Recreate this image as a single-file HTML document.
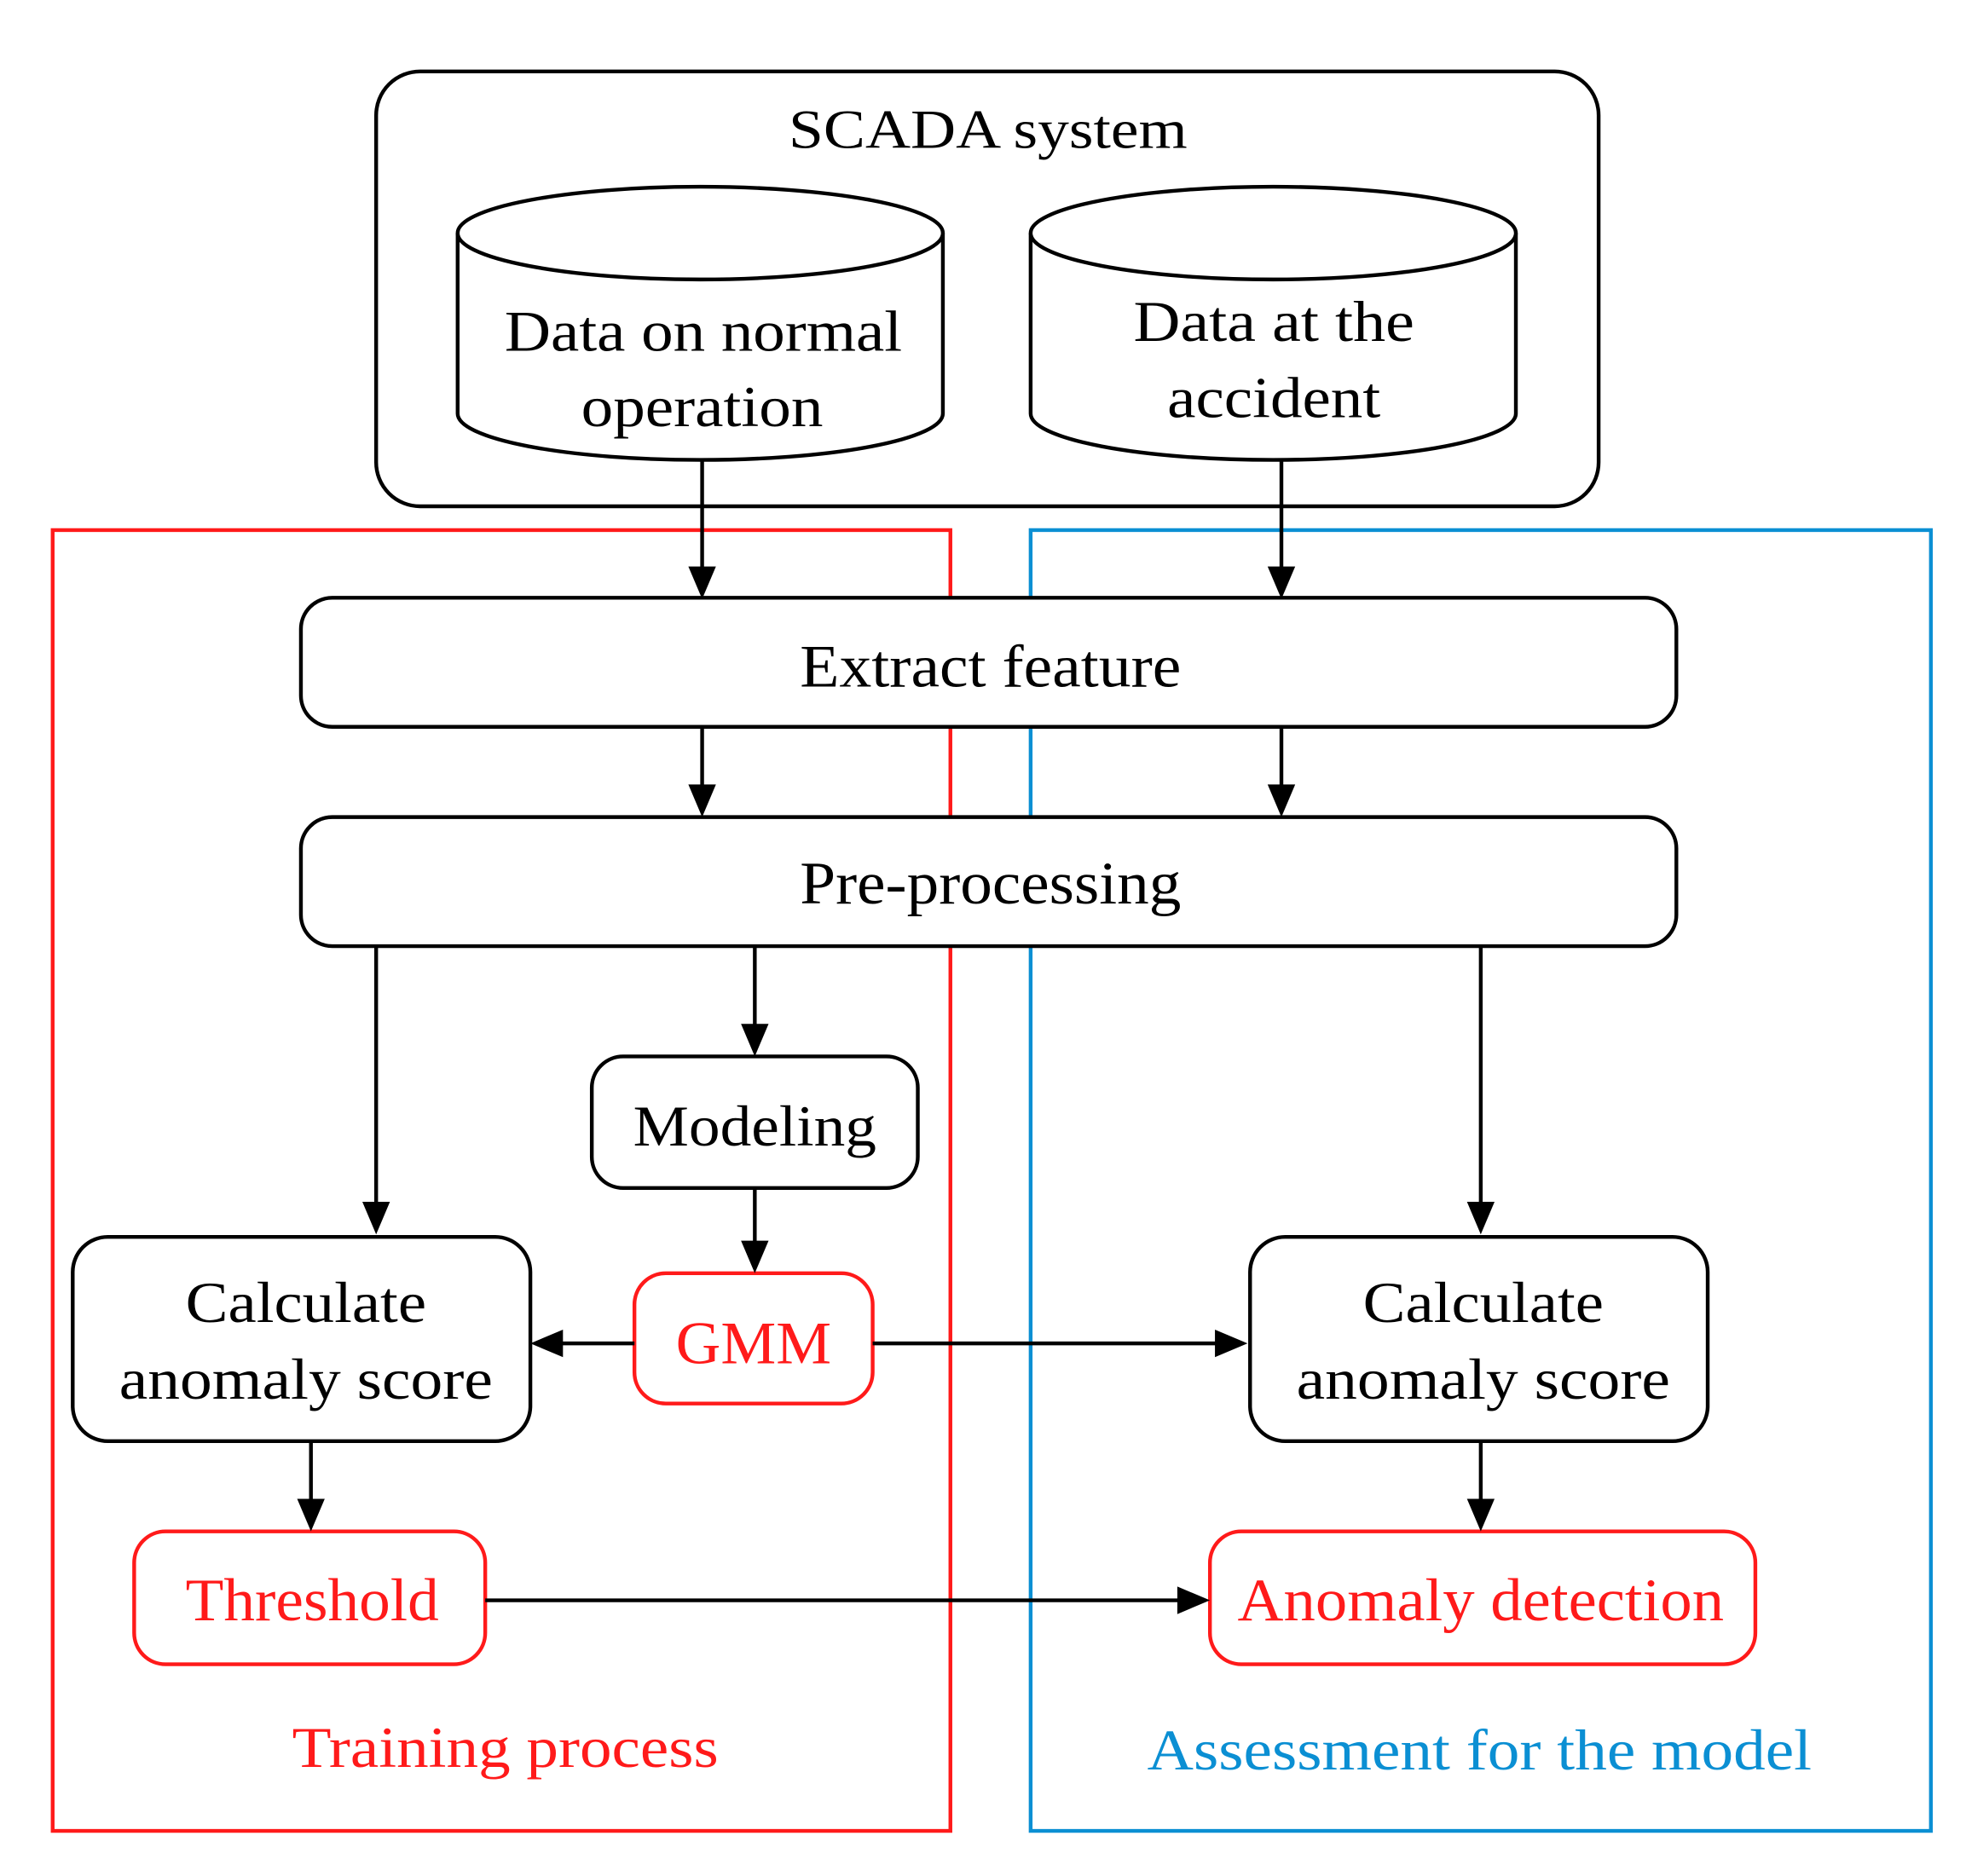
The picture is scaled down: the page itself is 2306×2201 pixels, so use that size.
<!DOCTYPE html>
<html><head><meta charset="utf-8"><style>
html,body{margin:0;padding:0;background:#fff;}
svg{display:block;}
text{font-family:"Liberation Serif",serif;text-anchor:middle;}
</style></head><body>
<svg width="2306" height="2201" viewBox="0 0 1568 1497" preserveAspectRatio="none" xmlns="http://www.w3.org/2000/svg">
<defs>
<marker id="a" viewBox="0 0 10 10" refX="10" refY="5" markerWidth="9" markerHeight="9" orient="auto" markerUnits="userSpaceOnUse">
</marker>
</defs>
<rect x="0" y="0" width="1568" height="1497" fill="#fff"/>
<!-- group frames -->
<rect x="42" y="423" width="716" height="1038" fill="none" stroke="#ff1a1a" stroke-width="3"/>
<rect x="822" y="423" width="718" height="1038" fill="none" stroke="#0b8fd3" stroke-width="3"/>
<!-- SCADA -->
<rect x="300" y="57" width="975" height="347" rx="35" fill="none" stroke="#000" stroke-width="3"/>
<text x="788" y="118" font-size="44" textLength="318" lengthAdjust="spacingAndGlyphs">SCADA system</text>
<!-- cylinders -->
<g fill="#fff" stroke="#000" stroke-width="3">
<path d="M365 186 V330 A193.5 37 0 0 0 752 330 V186"/>
<ellipse cx="558.5" cy="186" rx="193.5" ry="37"/>
<path d="M822 186 V330 A193.5 37 0 0 0 1209 330 V186"/>
<ellipse cx="1015.5" cy="186" rx="193.5" ry="37"/>
</g>
<text x="561" y="280" font-size="46" textLength="317" lengthAdjust="spacingAndGlyphs">Data on normal</text>
<text x="560" y="340" font-size="46" textLength="193" lengthAdjust="spacingAndGlyphs">operation</text>
<text x="1016" y="272" font-size="46" textLength="224" lengthAdjust="spacingAndGlyphs">Data at the</text>
<text x="1016" y="333" font-size="46" textLength="170" lengthAdjust="spacingAndGlyphs">accident</text>
<!-- boxes -->
<g fill="#fff" stroke="#000" stroke-width="3">
<rect x="240" y="477" width="1097" height="103" rx="25"/>
<rect x="240" y="652" width="1097" height="103" rx="25"/>
<rect x="472" y="843" width="260" height="105" rx="25"/>
<rect x="58" y="987" width="365" height="163" rx="28"/>
<rect x="997" y="987" width="365" height="163" rx="28"/>
</g>
<g fill="#fff" stroke="#ff1a1a" stroke-width="3">
<rect x="506" y="1016" width="190" height="104" rx="25"/>
<rect x="107" y="1222" width="280" height="106" rx="25"/>
<rect x="965" y="1222" width="435" height="106" rx="25"/>
</g>
<text x="790" y="548" font-size="48" textLength="304" lengthAdjust="spacingAndGlyphs">Extract feature</text>
<text x="790" y="721" font-size="48" textLength="304" lengthAdjust="spacingAndGlyphs">Pre-processing</text>
<text x="602" y="914" font-size="46" textLength="194" lengthAdjust="spacingAndGlyphs">Modeling</text>
<text x="601" y="1088" font-size="48" fill="#ff1a1a" textLength="124" lengthAdjust="spacingAndGlyphs">GMM</text>
<text x="244" y="1055" font-size="46" textLength="192" lengthAdjust="spacingAndGlyphs">Calculate</text>
<text x="244" y="1116" font-size="46" textLength="298" lengthAdjust="spacingAndGlyphs">anomaly score</text>
<text x="1183" y="1055" font-size="46" textLength="192" lengthAdjust="spacingAndGlyphs">Calculate</text>
<text x="1183" y="1116" font-size="46" textLength="298" lengthAdjust="spacingAndGlyphs">anomaly score</text>
<text x="249" y="1293" font-size="48" fill="#ff1a1a" textLength="202" lengthAdjust="spacingAndGlyphs">Threshold</text>
<text x="1181" y="1293" font-size="48" fill="#ff1a1a" textLength="388" lengthAdjust="spacingAndGlyphs">Anomaly detection</text>
<text x="403" y="1410" font-size="46" fill="#ff1a1a" textLength="340" lengthAdjust="spacingAndGlyphs">Training process</text>
<text x="1180" y="1412" font-size="46" fill="#0b8fd3" textLength="530" lengthAdjust="spacingAndGlyphs">Assessment for the model</text>
<!-- connectors -->
<g stroke="#000" stroke-width="3" fill="none">
<line x1="560" y1="367" x2="560" y2="455"/>
<line x1="1022" y1="367" x2="1022" y2="455"/>
<line x1="560" y1="580" x2="560" y2="630"/>
<line x1="1022" y1="580" x2="1022" y2="630"/>
<line x1="300" y1="755" x2="300" y2="962"/>
<line x1="602" y1="755" x2="602" y2="820"/>
<line x1="1181" y1="755" x2="1181" y2="962"/>
<line x1="602" y1="948" x2="602" y2="993"/>
<line x1="506" y1="1072" x2="446" y2="1072"/>
<line x1="696" y1="1072" x2="972" y2="1072"/>
<line x1="248" y1="1150" x2="248" y2="1199"/>
<line x1="1181" y1="1150" x2="1181" y2="1199"/>
<line x1="387" y1="1277" x2="942" y2="1277"/>
</g>
<g fill="#000">
<polygon points="549,452 571,452 560,478"/>
<polygon points="1011,452 1033,452 1022,478"/>
<polygon points="549,626 571,626 560,652"/>
<polygon points="1011,626 1033,626 1022,652"/>
<polygon points="289,959 311,959 300,985"/>
<polygon points="591,817 613,817 602,843"/>
<polygon points="1170,959 1192,959 1181,985"/>
<polygon points="591,990 613,990 602,1016"/>
<polygon points="449,1061 449,1083 423,1072"/>
<polygon points="969,1061 969,1083 995,1072"/>
<polygon points="237,1196 259,1196 248,1222"/>
<polygon points="1170,1196 1192,1196 1181,1222"/>
<polygon points="939,1266 939,1288 965,1277"/>
</g>
</svg>
</body></html>
